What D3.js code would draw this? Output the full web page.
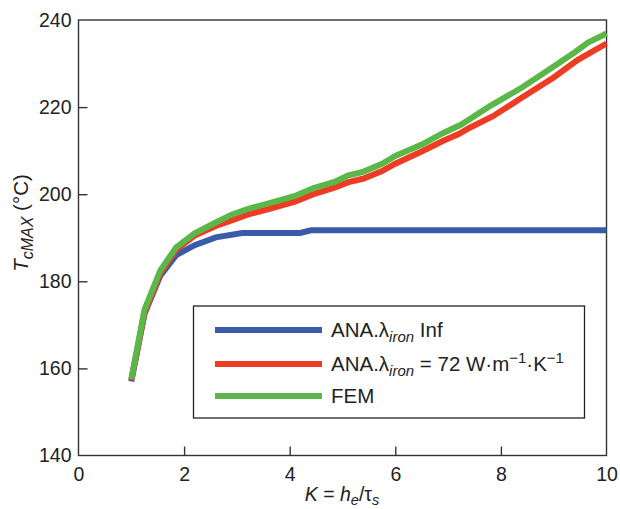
<!DOCTYPE html>
<html><head><meta charset="utf-8">
<script src="https://cdn.jsdelivr.net/npm/d3@7"></script>
<style>body{margin:0;background:#fff}svg{display:block;font-family:"Liberation Sans",Arial,sans-serif}</style>
</head><body><svg id="c" width="620" height="509"></svg>
<script>
const xTicks=[0,2,4,6,8,10];
const yTicks=[140,160,180,200,220,240];
const blueK=[1.0,1.25,1.55,1.85,2.2,2.6,3.1,4.2,4.4,10];
const blueT=[157.0,172.5,181.3,186.0,188.3,190.1,191.1,191.1,191.7,191.7];
const redK=[1.0,1.25,1.55,1.85,2.2,2.6,2.9,3.2,3.6,4.1,4.45,4.85,5.1,5.4,5.75,6.0,6.5,6.9,7.2,7.4,7.85,8.4,9.0,9.45,10];
const redT=[157.3,172.8,181.8,187.3,190.5,192.7,194.0,195.3,196.6,198.3,200.0,201.5,202.7,203.6,205.3,207.0,209.8,212.2,213.8,215.2,217.9,222.2,226.8,230.8,234.6];
const greenK=[1.0,1.25,1.55,1.85,2.2,2.6,2.9,3.2,3.6,4.1,4.45,4.85,5.1,5.4,5.75,6.0,6.5,6.9,7.25,7.8,8.4,9.0,9.4,9.65,10];
const greenT=[157.5,173.5,182.5,187.8,191.0,193.5,195.3,196.6,197.9,199.6,201.4,202.8,204.3,205.2,207.0,208.8,211.4,214.0,216.0,220.3,224.5,229.3,232.6,234.8,236.9];
const seriesNames=["blue","red","green"];
const colors={blue:"#3a5ca8",red:"#ee3b24",green:"#5bb848"};

const svg=d3.select("#c");
const x=d3.scaleLinear().domain([0,10]).range([78.5,606.5]);
const y=d3.scaleLinear().domain([140,240]).range([455.5,20]);
const ax="#333";

svg.append("rect").attr("x",x(0)).attr("y",y(240)).attr("width",x(10)-x(0)).attr("height",y(140)-y(240))
  .attr("fill","none").attr("stroke",ax).attr("stroke-width",1.4);

const gx=svg.append("g").attr("transform",`translate(0,${y(140)})`)
  .call(d3.axisBottom(x).tickValues(xTicks).tickSize(-9).tickPadding(12).tickFormat(d3.format("d")));
const gy=svg.append("g").attr("transform",`translate(${x(0)},0)`)
  .call(d3.axisLeft(y).tickValues(yTicks).tickSize(-9).tickPadding(7).tickFormat(d3.format("d")));
[gx,gy].forEach(g=>{
  g.select(".domain").remove();
  g.selectAll(".tick line").attr("stroke",ax).attr("stroke-width",1.4);
  g.selectAll(".tick text").attr("fill","#222").style("font-size","19.5px").style("font-family","'Liberation Sans',Arial,sans-serif");
});
gx.selectAll(".tick line").filter(d=>d===0||d===10).remove();
gy.selectAll(".tick line").filter(d=>d===140||d===240).remove();

const line=d3.line().x(d=>x(d[0])).y(d=>y(d[1]));
const data={blue:d3.zip(blueK,blueT),red:d3.zip(redK,redT),green:d3.zip(greenK,greenT)};
seriesNames.forEach(s=>{
  svg.append("path").datum(data[s]).attr("d",line).attr("fill","none")
    .attr("stroke",colors[s]).attr("stroke-width",6).attr("stroke-linejoin","miter");
});

const lg=svg.append("g");
lg.append("rect").attr("x",193.5).attr("y",306).attr("width",391).attr("height",112)
  .attr("fill","#fff").attr("stroke","#222").attr("stroke-width",1.3);
const ly=[330,364,396];
seriesNames.forEach((s,i)=>{
  lg.append("line").attr("x1",215).attr("x2",322).attr("y1",ly[i]).attr("y2",ly[i])
    .attr("stroke",colors[s]).attr("stroke-width",6);
});
function txt(yy){return lg.append("text").attr("x",331).attr("y",yy+7).attr("fill","#222").style("font-size","20.5px");}
let t=txt(ly[0]);
t.append("tspan").text("ANA.λ");
t.append("tspan").text("iron").attr("font-style","italic").style("font-size","15px").attr("dy",5);
t.append("tspan").text(" Inf").attr("dy",-5);
t=txt(ly[1]);
t.append("tspan").text("ANA.λ");
t.append("tspan").text("iron").attr("font-style","italic").style("font-size","15px").attr("dy",5);
t.append("tspan").text(" = 72 W·m").attr("dy",-5);
t.append("tspan").text("−1").style("font-size","15px").attr("dy",-8);
t.append("tspan").text("·K").attr("dy",8);
t.append("tspan").text("−1").style("font-size","15px").attr("dy",-8);
t=txt(ly[2]);
t.append("tspan").text("FEM");

const xl=svg.append("text").attr("x",342).attr("y",501).attr("text-anchor","middle").attr("fill","#222").style("font-size","19.5px");
xl.append("tspan").text("K").attr("font-style","italic");
xl.append("tspan").text(" = ");
xl.append("tspan").text("h").attr("font-style","italic");
xl.append("tspan").text("e").attr("font-style","italic").style("font-size","14.5px").attr("dy",4);
xl.append("tspan").text("/τ").attr("dy",-4);
xl.append("tspan").text("s").attr("font-style","italic").style("font-size","14.5px").attr("dy",4);

const yl=svg.append("text").attr("transform","translate(28,223) rotate(-90)").attr("text-anchor","middle").attr("fill","#222").style("font-size","20.5px");
yl.append("tspan").text("T").attr("font-style","italic");
yl.append("tspan").text("cMAX").attr("font-style","italic").style("font-size","16px").attr("dy",5);
yl.append("tspan").text(" (°C)").attr("dy",-5);
</script></body></html>
